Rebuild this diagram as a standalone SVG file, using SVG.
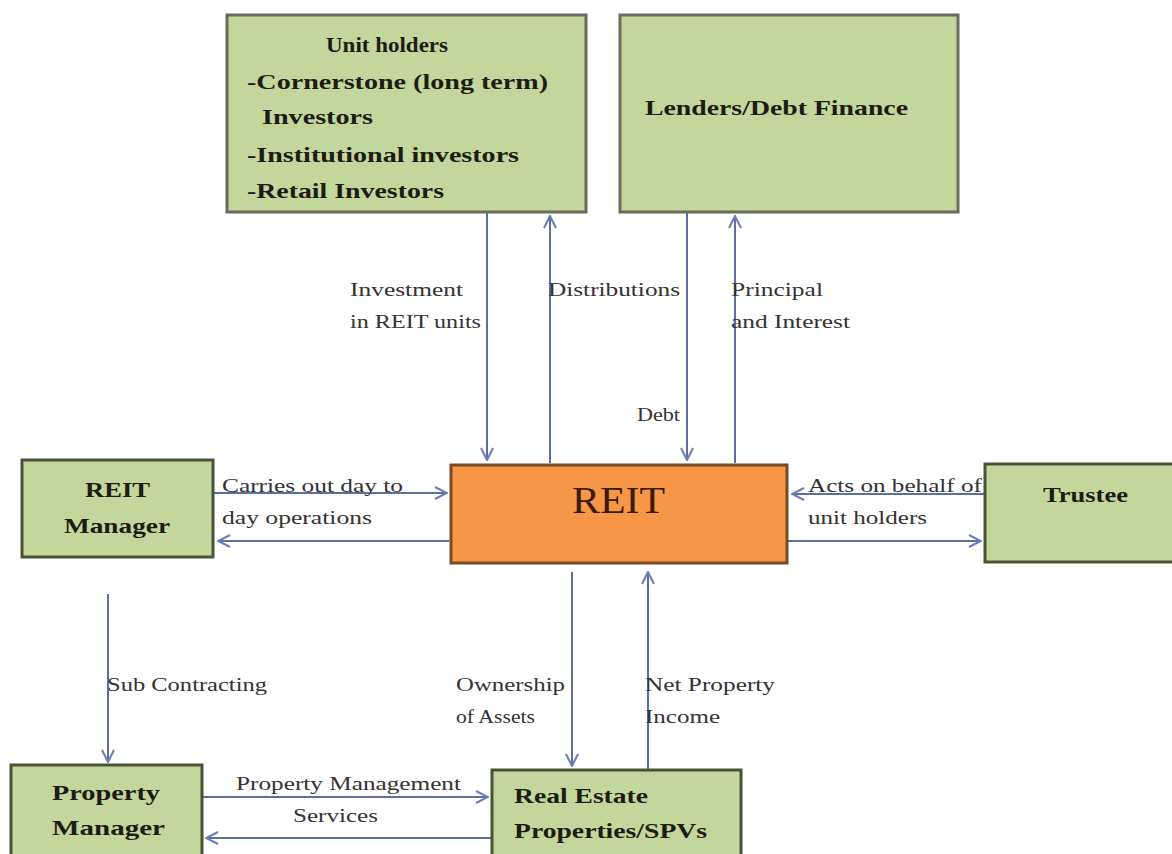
<svg xmlns="http://www.w3.org/2000/svg" width="1172" height="854" viewBox="0 0 1172 854">
<style>
.box{fill:#C3D69B;stroke:#4a5236;stroke-width:3}
.reit{fill:#F79646;stroke:#7a4a22;stroke-width:3}
.bt{font-family:"Liberation Serif",serif;font-weight:bold;font-size:22px;fill:#1c1c14}
.lt{font-family:"Liberation Serif",serif;font-size:19px;fill:#333}
.c{fill:none;stroke:#5b6fa6;stroke-width:2}
</style>
<defs>
<marker id="ah" viewBox="0 0 14 14" refX="13" refY="7" markerWidth="14" markerHeight="14" markerUnits="userSpaceOnUse" orient="auto">
<path d="M1,1 L13,7 L1,13" fill="none" stroke="#6a7cb4" stroke-width="2"/>
</marker>
</defs>
<rect width="1172" height="854" fill="#fff"/>
<g id="connectors">
<line class="c" x1="487" y1="213" x2="487" y2="460" marker-end="url(#ah)"/>
<line class="c" x1="550" y1="463" x2="550" y2="216" marker-end="url(#ah)"/>
<line class="c" x1="687" y1="213" x2="687" y2="460" marker-end="url(#ah)"/>
<line class="c" x1="735" y1="463" x2="735" y2="216" marker-end="url(#ah)"/>
<line class="c" x1="214" y1="493" x2="447" y2="493" marker-end="url(#ah)"/>
<line class="c" x1="449" y1="541" x2="218" y2="541" marker-end="url(#ah)"/>
<line class="c" x1="984" y1="494" x2="792" y2="494" marker-end="url(#ah)"/>
<line class="c" x1="788" y1="541" x2="981" y2="541" marker-end="url(#ah)"/>
<line class="c" x1="108" y1="594" x2="108" y2="762" marker-end="url(#ah)"/>
<line class="c" x1="572" y1="572" x2="572" y2="766" marker-end="url(#ah)"/>
<line class="c" x1="648" y1="769" x2="648" y2="572" marker-end="url(#ah)"/>
<line class="c" x1="203" y1="797" x2="488" y2="797" marker-end="url(#ah)"/>
<line class="c" x1="491" y1="838" x2="206" y2="838" marker-end="url(#ah)"/>
<text class="lt" x="350" y="296" textLength="113" lengthAdjust="spacingAndGlyphs">Investment</text>
<text class="lt" x="350" y="328" textLength="131" lengthAdjust="spacingAndGlyphs">in REIT units</text>
<text class="lt" x="548" y="296" textLength="132" lengthAdjust="spacingAndGlyphs">Distributions</text>
<text class="lt" x="731" y="296" textLength="92" lengthAdjust="spacingAndGlyphs">Principal</text>
<text class="lt" x="731" y="328" textLength="119" lengthAdjust="spacingAndGlyphs">and Interest</text>
<text class="lt" x="637" y="421" textLength="43" lengthAdjust="spacingAndGlyphs">Debt</text>
<text class="lt" x="222" y="492" textLength="181" lengthAdjust="spacingAndGlyphs">Carries out day to</text>
<text class="lt" x="222" y="524" textLength="150" lengthAdjust="spacingAndGlyphs">day operations</text>
<text class="lt" x="808" y="492" textLength="174" lengthAdjust="spacingAndGlyphs">Acts on behalf of</text>
<text class="lt" x="808" y="524" textLength="119" lengthAdjust="spacingAndGlyphs">unit holders</text>
<text class="lt" x="107" y="691" textLength="160" lengthAdjust="spacingAndGlyphs">Sub Contracting</text>
<text class="lt" x="456" y="691" textLength="109" lengthAdjust="spacingAndGlyphs">Ownership</text>
<text class="lt" x="456" y="723" textLength="79" lengthAdjust="spacingAndGlyphs">of Assets</text>
<text class="lt" x="645" y="691" textLength="130" lengthAdjust="spacingAndGlyphs">Net Property</text>
<text class="lt" x="645" y="723" textLength="75" lengthAdjust="spacingAndGlyphs">Income</text>
<text class="lt" x="236" y="790" textLength="225" lengthAdjust="spacingAndGlyphs">Property Management</text>
<text class="lt" x="293" y="822" textLength="85" lengthAdjust="spacingAndGlyphs">Services</text>
</g>
<g id="unitholders">
<rect class="box" x="227" y="15" width="359" height="197" style="stroke:#6b6b60"/>
<text class="bt" x="326" y="52" textLength="122" lengthAdjust="spacingAndGlyphs">Unit holders</text>
<text class="bt" x="247" y="89" textLength="301" lengthAdjust="spacingAndGlyphs">-Cornerstone (long term)</text>
<text class="bt" x="262" y="124" textLength="111" lengthAdjust="spacingAndGlyphs">Investors</text>
<text class="bt" x="247" y="162" textLength="272" lengthAdjust="spacingAndGlyphs">-Institutional investors</text>
<text class="bt" x="247" y="198" textLength="197" lengthAdjust="spacingAndGlyphs">-Retail Investors</text>
</g>
<g id="lenders">
<rect class="box" x="620" y="15" width="338" height="197" style="stroke:#6b6b60"/>
<text class="bt" x="645" y="115" textLength="263" lengthAdjust="spacingAndGlyphs">Lenders/Debt Finance</text>
</g>
<g id="reitmanager">
<rect class="box" x="22" y="460" width="191" height="97"/>
<text class="bt" x="85" y="497" textLength="65" lengthAdjust="spacingAndGlyphs">REIT</text>
<text class="bt" x="64" y="533" textLength="106" lengthAdjust="spacingAndGlyphs">Manager</text>
</g>
<g id="reit">
<rect class="reit" x="451" y="465" width="336" height="98"/>
<text x="572" y="513" textLength="93" lengthAdjust="spacingAndGlyphs" style="font-family:'Liberation Serif',serif;font-size:38px;fill:#3a1a08">REIT</text>
</g>
<g id="trustee">
<rect class="box" x="985" y="464" width="200" height="98"/>
<text class="bt" x="1043" y="502" textLength="85" lengthAdjust="spacingAndGlyphs">Trustee</text>
</g>
<g id="propertymanager">
<rect class="box" x="11" y="765" width="191" height="100"/>
<text class="bt" x="52" y="800" textLength="108" lengthAdjust="spacingAndGlyphs">Property</text>
<text class="bt" x="52" y="835" textLength="113" lengthAdjust="spacingAndGlyphs">Manager</text>
</g>
<g id="realestate">
<rect class="box" x="492" y="770" width="249" height="95"/>
<text class="bt" x="514" y="803" textLength="134" lengthAdjust="spacingAndGlyphs">Real Estate</text>
<text class="bt" x="514" y="838" textLength="193" lengthAdjust="spacingAndGlyphs">Properties/SPVs</text>
</g>
</svg>
